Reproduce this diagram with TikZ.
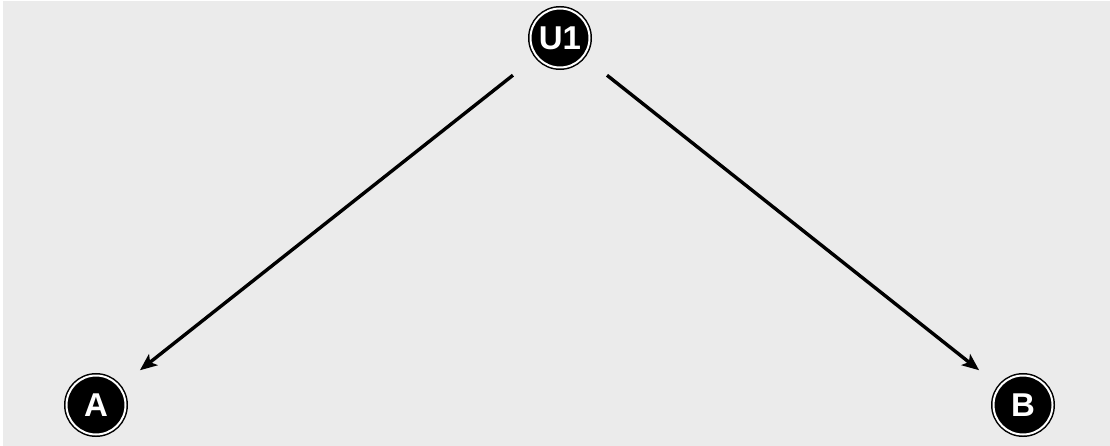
\documentclass[tikz,border=0pt]{standalone}
\usepackage{fontspec}
\setmainfont{Liberation Sans}
\usetikzlibrary{arrows.meta}
\definecolor{panel}{HTML}{EBEBEB}
\tikzset{
  var/.style={circle, fill=black, draw=black, line width=1.5pt,
    double=white, double distance=2pt, minimum size=59pt, inner sep=0pt,
    outer sep=2.5pt, text=white, font=\fontsize{33}{33}\selectfont\bfseries},
  edge/.style={line width=3.4pt, -{Stealth[length=17pt, width=14pt, inset=4pt]},
    shorten <=28pt, shorten >=24pt}
}
\begin{document}
\begin{tikzpicture}[x=1pt, y=-1pt]
  \useasboundingbox (0,0) rectangle (1110,446);
  \fill[white] (0,0) rectangle (1110,446);
  \fill[panel] (3,1) rectangle (1110,446);
  \node[var] (u1) at (560,38) {U1};
  \node[var] (a) at (96,405) {A};
  \node[var] (b) at (1023,405) {B};
  \draw[edge] (u1) -- (a);
  \draw[edge] (u1) -- (b);
\end{tikzpicture}
\end{document}
